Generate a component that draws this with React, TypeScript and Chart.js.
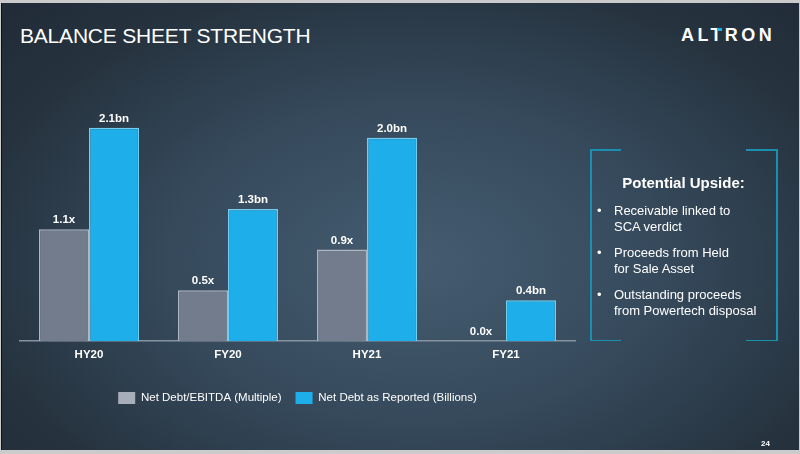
import React, { useEffect, useRef } from "react";
import { Chart, registerables } from "chart.js";

Chart.register(...registerables);

const categories = ["HY20", "FY20", "HY21", "FY21"];
const netDebtEbitda = [1.1, 0.5, 0.9, 0.0];
const netDebtReported = [2.1, 1.3, 2.0, 0.4];
const seriesNames = ["Net Debt/EBITDA (Multiple)", "Net Debt as Reported (Billions)"];
const seriesSuffix = ["x", "bn"];
const bullets = [
  ["Receivable linked to", "SCA verdict"],
  ["Proceeds from Held", "for Sale Asset"],
  ["Outstanding proceeds", "from Powertech disposal"],
];

const FONT = "'Liberation Sans', Arial, Helvetica, sans-serif";
const legendColors = ["#a7aeba", "#1eafea"];

const valueLabels = {
  id: "valueLabels",
  afterDatasetsDraw(chart: any) {
    const ctx = chart.ctx;
    ctx.save();
    ctx.fillStyle = "#ffffff";
    ctx.font = `bold 11.5px ${FONT}`;
    ctx.textAlign = "center";
    ctx.textBaseline = "alphabetic";
    chart.data.datasets.forEach((ds: any, di: number) => {
      const meta = chart.getDatasetMeta(di);
      meta.data.forEach((bar: any, i: number) => {
        const v = ds.data[i];
        ctx.fillText(v.toFixed(1) + seriesSuffix[di], bar.x, bar.y - 6);
      });
    });
    ctx.restore();
  },
};

export default function App() {
  const ref = useRef<HTMLCanvasElement | null>(null);

  useEffect(() => {
    document.body.style.margin = "0";
    const chart = new Chart(ref.current as HTMLCanvasElement, {
      type: "bar",
      data: {
        labels: categories,
        datasets: [
          {
            label: seriesNames[0],
            data: netDebtEbitda,
            backgroundColor: "#727c8d",
            borderColor: "#aeb6c2",
            borderWidth: 1.5,
            borderSkipped: "bottom",
          },
          {
            label: seriesNames[1],
            data: netDebtReported,
            backgroundColor: "#1eafea",
            borderColor: "#72cdf1",
            borderWidth: 1.5,
            borderSkipped: "bottom",
          },
        ],
      },
      options: {
        animation: false,
        responsive: false,
        maintainAspectRatio: false,
        layout: { padding: { left: 19.5, right: 224.5, top: 87, bottom: 40 } },
        datasets: { bar: { categoryPercentage: 0.72, barPercentage: 1 } },
        scales: {
          x: {
            grid: { display: false, drawTicks: false },
            border: { display: true, color: "#8593a1", width: 1.5 },
            ticks: { color: "#ffffff", font: { family: FONT, size: 11.5, weight: "bold" }, padding: 7 },
            afterFit: (s: any) => { s.height = 37; },
          },
          y: { display: false, min: 0, max: 2.5 },
        },
        plugins: {
          tooltip: { enabled: false },
          legend: {
            position: "bottom",
            labels: {
              color: "#ffffff",
              boxWidth: 17,
              boxHeight: 12,
              padding: 14,
              font: { family: FONT, size: 11.5 },
              generateLabels: (c: any) =>
                c.data.datasets.map((ds: any, i: number) => ({
                  text: ds.label,
                  fillStyle: legendColors[i],
                  strokeStyle: legendColors[i],
                  lineWidth: 0,
                  fontColor: "#ffffff",
                  datasetIndex: i,
                  hidden: false,
                })),
            },
          },
        },
      },
      plugins: [valueLabels],
    });
    return () => chart.destroy();
  }, []);

  return (
    <div style={{ position: "fixed", left: 0, top: 0, width: 800, height: 454, background: "#cbcbcb", overflow: "hidden", fontFamily: FONT }}>
      <div
        style={{
          position: "absolute",
          left: 1,
          top: 3,
          width: 797,
          height: 447,
          background: "radial-gradient(ellipse 70% 80% at 52% 58%, #455c70 0%, #35495b 45%, #26333f 80%, #212c38 100%)",
          borderLeft: "1px solid #111",
        }}
      />
      <div style={{ position: "absolute", left: 20, top: 24, color: "#fff", fontSize: 21, letterSpacing: -0.2, whiteSpace: "nowrap" }}>
        BALANCE SHEET STRENGTH
      </div>
      <div style={{ position: "absolute", left: 681, top: 25, color: "#fff", fontSize: 18, fontWeight: 600, letterSpacing: 3.4, whiteSpace: "nowrap" }}>
        ALTRON
      </div>
      <div style={{ position: "absolute", left: 717, top: 28, width: 5, height: 2.5, background: "#1eafea" }} />
      <canvas ref={ref} width={800} height={454} style={{ position: "absolute", left: 0, top: 0 }} />
      {/* box corners */}
      <div style={{ position: "absolute", left: 590, top: 149, width: 1.5, height: 192, background: "#1a8fb0" }} />
      <div style={{ position: "absolute", left: 776, top: 149, width: 1.5, height: 192, background: "#1a8fb0" }} />
      <div style={{ position: "absolute", left: 590, top: 149, width: 31, height: 1.5, background: "#1a8fb0" }} />
      <div style={{ position: "absolute", left: 746, top: 149, width: 31, height: 1.5, background: "#1a8fb0" }} />
      <div style={{ position: "absolute", left: 590, top: 339.5, width: 31, height: 1.5, background: "#1a8fb0" }} />
      <div style={{ position: "absolute", left: 746, top: 339.5, width: 31, height: 1.5, background: "#1a8fb0" }} />
      <div style={{ position: "absolute", left: 590, top: 174, width: 187, textAlign: "center", color: "#fff", fontSize: 15, fontWeight: "bold" }}>
        Potential Upside:
      </div>
      {bullets.map((b, i) => (
        <div key={i} style={{ position: "absolute", left: 597, top: 203 + i * 42, color: "#fff", fontSize: 13, lineHeight: "16px", whiteSpace: "nowrap" }}>
          <span style={{ position: "absolute", left: 0 }}>•</span>
          <div style={{ marginLeft: 17 }}>{b[0]}</div>
          <div style={{ marginLeft: 17 }}>{b[1]}</div>
        </div>
      ))}
      <div style={{ position: "absolute", left: 761, top: 439, color: "#fff", fontSize: 8, fontWeight: "bold" }}>24</div>
    </div>
  );
}
